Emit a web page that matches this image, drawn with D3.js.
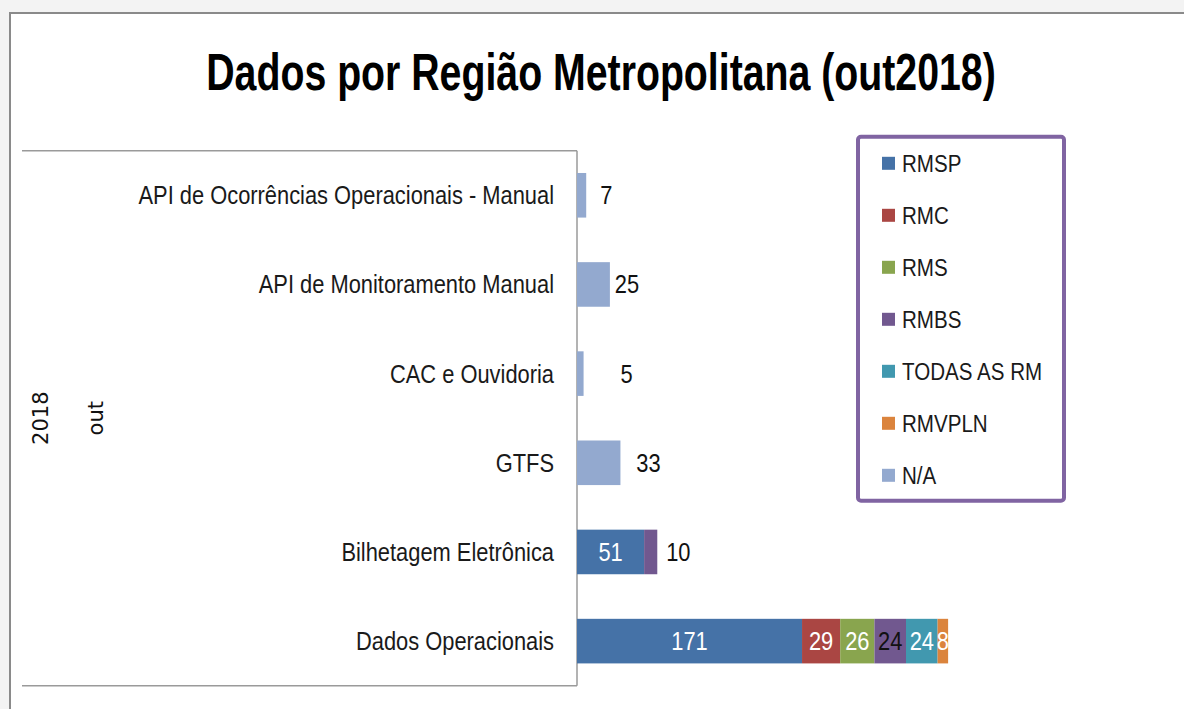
<!DOCTYPE html>
<html>
<head>
<meta charset="utf-8">
<script src="https://cdn.jsdelivr.net/npm/d3@7"></script>
<style>
  body { margin: 0; background: #fff; }
  svg { display: block; }
</style>
</head>
<body>
<div class="chart-container"></div>
<script>
// chart data, top row first
const categories = [
    "API de Ocorrências Operacionais - Manual",
    "API de Monitoramento Manual",
    "CAC e Ouvidoria",
    "GTFS",
    "Bilhetagem Eletrônica",
    "Dados Operacionais"
];
const seriesNames = ["RMSP", "RMC", "RMS", "RMBS", "TODAS AS RM", "RMVPLN", "N/A"];
const rmsp   = [0, 0, 0, 0, 51, 171];
const rmc    = [0, 0, 0, 0, 0, 29];
const rms    = [0, 0, 0, 0, 0, 26];
const rmbs   = [0, 0, 0, 0, 10, 24];
const todas  = [0, 0, 0, 0, 0, 24];
const rmvpln = [0, 0, 0, 0, 0, 8];
const na     = [7, 25, 5, 33, 0, 0];
const titleText = "Dados por Região Metropolitana (out2018)";
const axisGroupLabels = ["2018", "out"];

const seriesValues = [rmsp, rmc, rms, rmbs, todas, rmvpln, na];
const colors = ["#4572A7", "#AA4643", "#89A54E", "#71588F", "#4198AF", "#DB843D", "#93A9CF"];
const labelColors = ["#fff", "#fff", "#fff", "#111", "#fff", "#fff", "#111"];

// labels that were dragged outside the bar end in the original (gap from bar end to label centre)
const outsideLabelGap = {
    "API de Ocorrências Operacionais - Manual": 20,
    "API de Monitoramento Manual": 17,
    "CAC e Ouvidoria": 43,
    "GTFS": 28,
    "Bilhetagem Eletrônica": 21
};

const width = 1184;
const height = 709;
const font = "'Liberation Sans', Arial, sans-serif";
const squeeze = 0.875;   // text in the source is narrower than Arial
const fontSize = 25;

const svg = d3.select(".chart-container").append("svg")
    .attr("width", width)
    .attr("height", height);

// sheet frame
svg.append("rect").attr("width", width).attr("height", height).attr("fill", "#f3f3f3");
svg.append("rect").attr("x", 10).attr("y", 13).attr("width", width).attr("height", height).attr("fill", "#fff");
svg.append("line").attr("x1", 9).attr("x2", width).attr("y1", 13).attr("y2", 13)
    .attr("stroke", "#8a8a8a").attr("stroke-width", 2);
svg.append("line").attr("x1", 10).attr("x2", 10).attr("y1", 12).attr("y2", height)
    .attr("stroke", "#8a8a8a").attr("stroke-width", 2);

// squeezed text helper
const addText = (parent, x, y, str, size, opts = {}) => {
    const g = parent.append("g").attr("transform", "translate(" + x + "," + y + ")");
    g.append("text")
        .attr("transform", "scale(" + (opts.sx || squeeze) + ",1)")
        .attr("text-anchor", opts.anchor || "start")
        .attr("font-family", font)
        .attr("font-size", size)
        .attr("font-weight", opts.weight || "normal")
        .attr("fill", opts.fill || "#111")
        .text(str);
    return g;
};

// title
addText(svg, 601, 89.5, titleText, 52, { anchor: "middle", weight: "bold", sx: 0.755, fill: "#000" });

// scales
const plotLeft = 577, plotTop = 150.7, plotBottom = 685.7;
const yScale = d3.scaleBand()
    .domain(categories)
    .range([plotTop, plotBottom])
    .paddingInner(0.5)
    .paddingOuter(0.25);
const xScale = d3.scaleLinear()
    .domain([0, 300])
    .range([plotLeft, plotLeft + 300 * 1.316]);

// category axis box
const axisColor = "#9a9a9a";
svg.append("line").attr("x1", 22).attr("x2", plotLeft).attr("y1", plotTop).attr("y2", plotTop)
    .attr("stroke", axisColor).attr("stroke-width", 1.5);
svg.append("line").attr("x1", 22).attr("x2", plotLeft).attr("y1", plotBottom).attr("y2", plotBottom)
    .attr("stroke", axisColor).attr("stroke-width", 1.5);
svg.append("line").attr("x1", plotLeft).attr("x2", plotLeft).attr("y1", plotTop).attr("y2", plotBottom)
    .attr("stroke", axisColor).attr("stroke-width", 1.5);

const capShift = fontSize * 0.716 / 2;
categories.forEach(c => {
    addText(svg, 554, yScale(c) + yScale.bandwidth() / 2 + capShift, c, fontSize, { anchor: "end", fill: "#1a1a1a" });
});

// group labels (year / month), rotated
const midY = (plotTop + plotBottom) / 2;
[[48, axisGroupLabels[0]], [103, axisGroupLabels[1]]].forEach(([bx, str]) => {
    svg.append("text")
        .attr("transform", "translate(" + bx + "," + midY + ")rotate(-90)")
        .attr("text-anchor", "middle")
        .attr("font-family", "'DejaVu Sans', sans-serif")
        .attr("font-size", 21)
        .attr("fill", "#111")
        .text(str);
});

// stacked bars
const rows = categories.map((c, i) => {
    const row = { category: c };
    seriesNames.forEach((s, j) => { row[s] = seriesValues[j][i]; });
    return row;
});
const stacked = d3.stack().keys(seriesNames)(rows);

const layers = svg.selectAll(".layer")
    .data(stacked)
    .enter()
    .append("g")
    .attr("class", "layer")
    .attr("fill", (d, i) => colors[i]);

layers.selectAll("rect")
    .data(d => d.filter(seg => seg[1] - seg[0] > 0))
    .enter()
    .append("rect")
    .attr("x", seg => xScale(seg[0]))
    .attr("y", seg => yScale(seg.data.category))
    .attr("width", seg => xScale(seg[1]) - xScale(seg[0]))
    .attr("height", yScale.bandwidth());

// data labels
const lastKey = row => {
    let k = null;
    seriesNames.forEach(s => { if (row[s] > 0) k = s; });
    return k;
};
stacked.forEach((layer, i) => {
    layer.forEach(seg => {
        const v = seg[1] - seg[0];
        if (v <= 0) return;
        const cat = seg.data.category;
        const cy = yScale(cat) + yScale.bandwidth() / 2 + capShift;
        let cx = (xScale(seg[0]) + xScale(seg[1])) / 2;
        let fill = labelColors[i];
        if (outsideLabelGap[cat] !== undefined && lastKey(seg.data) === layer.key) {
            cx = xScale(seg[1]) + outsideLabelGap[cat];
            fill = "#111";
        }
        addText(svg, cx, cy, String(v), fontSize, { anchor: "middle", fill: fill });
    });
});

// legend
const legend = svg.append("g");
legend.append("rect")
    .attr("x", 858).attr("y", 136.7)
    .attr("width", 206).attr("height", 364)
    .attr("rx", 3)
    .attr("fill", "#fff")
    .attr("stroke", "#8064A2")
    .attr("stroke-width", 4);
seriesNames.forEach((s, i) => {
    const cy = 163.3 + i * 52;
    legend.append("rect")
        .attr("x", 882).attr("y", cy - 6.5)
        .attr("width", 13).attr("height", 13)
        .attr("fill", colors[i]);
    addText(legend, 902, cy + 23.5 * 0.716 / 2, s, 23.5, { fill: "#1a1a1a" });
});
</script>
</body>
</html>
